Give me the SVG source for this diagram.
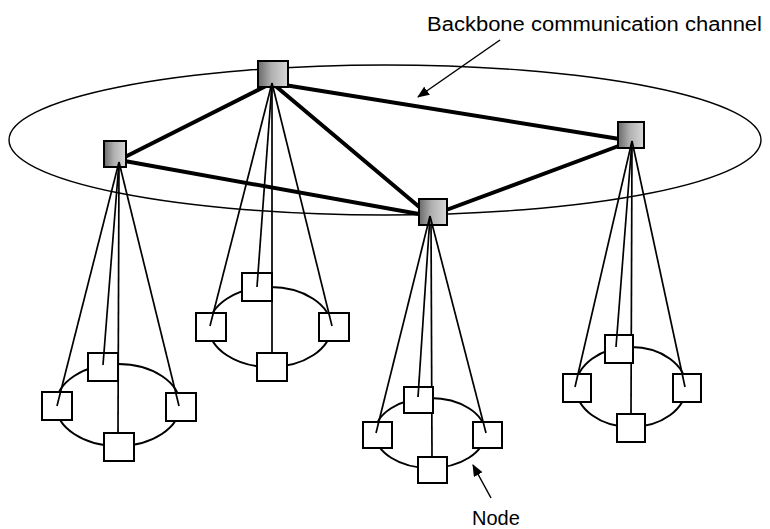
<svg xmlns="http://www.w3.org/2000/svg" width="770" height="529" viewBox="0 0 770 529">
<style>
.bb{fill:none;stroke:#000;stroke-width:1.4}
.ce{fill:none;stroke:#000;stroke-width:2}
.thin{stroke:#000;stroke-width:1.7;fill:none}
.thick{stroke:#000;stroke-width:4;fill:none;stroke-linecap:round}
.leaf{fill:#fff;stroke:#000;stroke-width:2}
.hub{fill:url(#g);stroke:#000;stroke-width:2}
.lbl{font-family:"Liberation Sans",Arial,sans-serif;font-size:20px;fill:#000}
.arr{stroke:#000;stroke-width:1.5;fill:none}
</style>
<defs>
<linearGradient id="g" x1="0" y1="0" x2="1" y2="0">
<stop offset="0" stop-color="#6a6a6a"/>
<stop offset="0.45" stop-color="#b0b0b0"/>
<stop offset="1" stop-color="#d8d8d8"/>
</linearGradient>
<marker id="ah" markerWidth="12" markerHeight="10" refX="11" refY="5" orient="auto" markerUnits="userSpaceOnUse">
<path d="M0,0 L12,5 L0,10 Z" fill="#000"/>
</marker>
</defs>

<ellipse class="bb" cx="385" cy="140" rx="376" ry="75"/>

<g id="cluster-ellipses">
<ellipse class="ce" cx="118" cy="405" rx="62" ry="41"/>
<ellipse class="ce" cx="270" cy="327" rx="61" ry="40"/>
<ellipse class="ce" cx="430" cy="433" rx="55" ry="35"/>
<ellipse class="ce" cx="631" cy="387" rx="55" ry="40"/>
</g>

<g id="connectors">
<line class="thin" x1="119" y1="162" x2="118" y2="433"/>
<line class="thin" x1="272" y1="83" x2="272" y2="353"/>
<line class="thin" x1="431" y1="216" x2="432" y2="457"/>
<line class="thin" x1="632" y1="141" x2="631" y2="414"/>
</g>

<g id="backbone-links">
<line class="thick" x1="272" y1="83" x2="119" y2="160"/>
<line class="thick" x1="272" y1="83" x2="632" y2="141"/>
<line class="thick" x1="272" y1="83" x2="430" y2="216"/>
<line class="thick" x1="119" y1="160" x2="430" y2="216"/>
<line class="thick" x1="430" y1="216" x2="632" y2="141"/>
</g>

<g id="hub-L"><rect class="hub" x="104" y="141" width="22" height="26"/></g>
<g id="hub-T"><rect class="hub" x="258" y="61" width="30" height="26"/></g>
<g id="hub-R"><rect class="hub" x="618" y="122" width="26" height="26"/></g>
<g id="hub-B"><rect class="hub" x="419" y="199" width="28" height="26"/></g>

<g id="c1-top"><rect class="leaf" x="88" y="353" width="30" height="28"/></g>
<g id="c1-left"><rect class="leaf" x="42" y="392" width="30" height="28"/></g>
<g id="c1-right"><rect class="leaf" x="166" y="393" width="30" height="28"/></g>
<g id="c1-bottom"><rect class="leaf" x="104" y="433" width="30" height="28"/></g>

<g id="c2-top"><rect class="leaf" x="242" y="273" width="30" height="28"/></g>
<g id="c2-left"><rect class="leaf" x="196" y="313" width="30" height="28"/></g>
<g id="c2-right"><rect class="leaf" x="319" y="313" width="30" height="28"/></g>
<g id="c2-bottom"><rect class="leaf" x="257" y="353" width="30" height="28"/></g>

<g id="c3-top"><rect class="leaf" x="404" y="387" width="29" height="26"/></g>
<g id="c3-left"><rect class="leaf" x="363" y="422" width="29" height="26"/></g>
<g id="c3-right"><rect class="leaf" x="473" y="422" width="29" height="26"/></g>
<g id="c3-bottom"><rect class="leaf" x="418" y="457" width="29" height="26"/></g>

<g id="c4-top"><rect class="leaf" x="605" y="335" width="28" height="28"/></g>
<g id="c4-left"><rect class="leaf" x="563" y="374" width="28" height="28"/></g>
<g id="c4-right"><rect class="leaf" x="673" y="374" width="28" height="28"/></g>
<g id="c4-bottom"><rect class="leaf" x="617" y="414" width="28" height="28"/></g>

<g id="fan-connectors">
<line class="thin" x1="119" y1="162" x2="57" y2="406"/>
<line class="thin" x1="119" y1="162" x2="103" y2="365"/>
<line class="thin" x1="119" y1="162" x2="179" y2="406"/>
<line class="thin" x1="272" y1="83" x2="210" y2="326"/>
<line class="thin" x1="272" y1="83" x2="257" y2="287"/>
<line class="thin" x1="272" y1="83" x2="332" y2="326"/>
<line class="thin" x1="430" y1="216" x2="376" y2="433"/>
<line class="thin" x1="430" y1="216" x2="418" y2="397"/>
<line class="thin" x1="430" y1="216" x2="486" y2="433"/>
<line class="thin" x1="632" y1="141" x2="575" y2="387"/>
<line class="thin" x1="632" y1="141" x2="616" y2="347"/>
<line class="thin" x1="632" y1="141" x2="685" y2="387"/>
</g>

<g id="labels">
<line class="arr" x1="500" y1="40" x2="418" y2="97" marker-end="url(#ah)"/>
<text class="lbl" x="427" y="31" textLength="335" lengthAdjust="spacingAndGlyphs">Backbone communication channel</text>
<line class="arr" x1="491" y1="498" x2="473" y2="465" marker-end="url(#ah)"/>
<text class="lbl" x="472" y="525">Node</text>
</g>
</svg>
